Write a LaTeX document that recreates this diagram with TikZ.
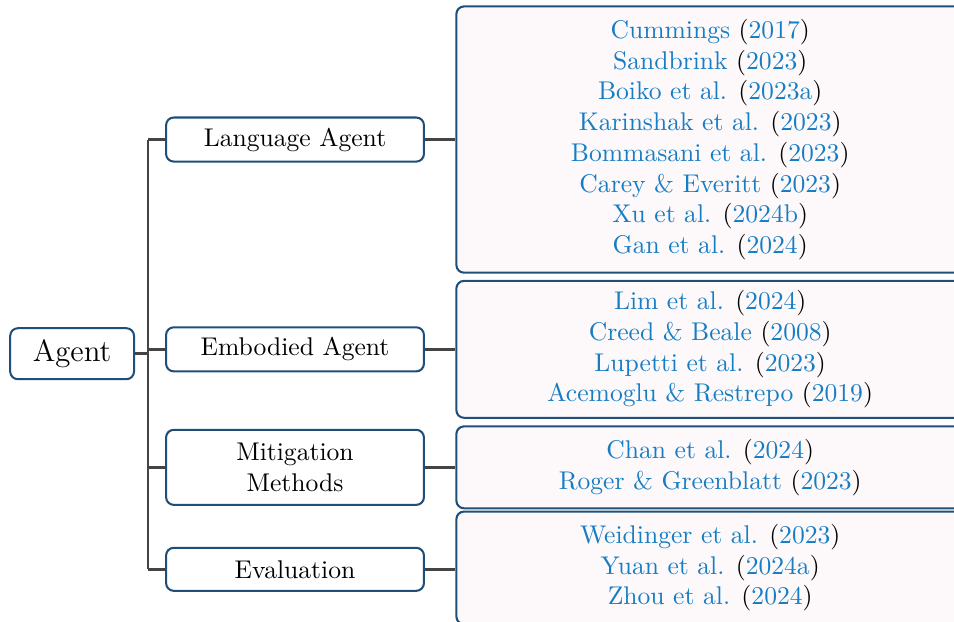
\documentclass[tikz,border=0pt]{standalone}
\usepackage{tikz}
\usetikzlibrary{calc}

\definecolor{boxblue}{RGB}{31,78,121}
\definecolor{leaffill}{RGB}{253,249,251}
\definecolor{citeblue}{RGB}{22,125,196}
\definecolor{linkgray}{RGB}{68,68,68}

\newcommand{\citeentry}[2]{{\color{citeblue}#1} ({\color{citeblue}#2})}

\begin{document}
\begin{tikzpicture}[
        rootbox/.style={draw=boxblue, line width=0.8pt, rounded corners=3pt, fill=white,
            minimum width=1.70cm, minimum height=0.70cm, font=\fontsize{12}{14}\selectfont},
        catbox/.style={draw=boxblue, line width=0.8pt, rounded corners=3pt, fill=white,
            minimum width=3.54cm, minimum height=0.59cm, align=center, inner ysep=4pt},
        leafbox/.style={draw=boxblue, line width=0.8pt, rounded corners=3pt, fill=leaffill,
            minimum width=6.97cm, align=center, inner ysep=5pt},
        link/.style={draw=linkgray, line width=1pt}
    ]

            \useasboundingbox (0,0) rectangle (13.097,8.526);

            \node (agent) [rootbox] at (0.99,3.67) {Agent};
            \coordinate (trunk) at (2.03,3.67);

            \node (lang) [catbox] at (4.05,6.61) {Language Agent};
            \node (emb)  [catbox] at (4.05,3.73) {Embodied Agent};
            \node (mit)  [catbox, minimum height=1.03cm] at (4.05,2.11) {Mitigation\\Methods};
            \node (eval) [catbox] at (4.05,0.71) {Evaluation};

            \node (langrefs) [leafbox, minimum height=3.60cm] at (9.75,6.61) {%
                \citeentry{Cummings}{2017}\\
                \citeentry{Sandbrink}{2023}\\
                \citeentry{Boiko et al.}{2023a}\\
                \citeentry{Karinshak et al.}{2023}\\
                \citeentry{Bommasani et al.}{2023}\\
                \citeentry{Carey \& Everitt}{2023}\\
                \citeentry{Xu et al.}{2024b}\\
                \citeentry{Gan et al.}{2024}};
            \node (embrefs) [leafbox, inner ysep=3.5pt, minimum height=1.88cm] at (9.75,3.73) {%
                \citeentry{Lim et al.}{2024}\\
                \citeentry{Creed \& Beale}{2008}\\
                \citeentry{Lupetti et al.}{2023}\\
                \citeentry{Acemoglu \& Restrepo}{2019}};
            \node (mitrefs) [leafbox, minimum height=1.07cm] at (9.75,2.11) {%
                \citeentry{Chan et al.}{2024}\\
                \citeentry{Roger \& Greenblatt}{2023}};
            \node (evalrefs) [leafbox, minimum height=1.45cm] at (9.75,0.73) {%
                \citeentry{Weidinger et al.}{2023}\\
                \citeentry{Yuan et al.}{2024a}\\
                \citeentry{Zhou et al.}{2024}};

            \draw[link] (agent.east) -- (agent.east -| trunk);
            \draw[link] (lang.west -| trunk) -- (eval.west -| trunk);
            \draw[link] (lang.west -| trunk) -- (lang.west);
            \draw[link] (emb.west -| trunk) -- (emb.west);
            \draw[link] (mit.west -| trunk) -- (mit.west);
            \draw[link] (eval.west -| trunk) -- (eval.west);

            \draw[link] (lang.east) -- (lang.east -| langrefs.west);
            \draw[link] (emb.east) -- (emb.east -| embrefs.west);
            \draw[link] (mit.east) -- (mit.east -| mitrefs.west);
            \draw[link] (eval.east) -- (eval.east -| evalrefs.west);

        \end{tikzpicture}
\end{document}
